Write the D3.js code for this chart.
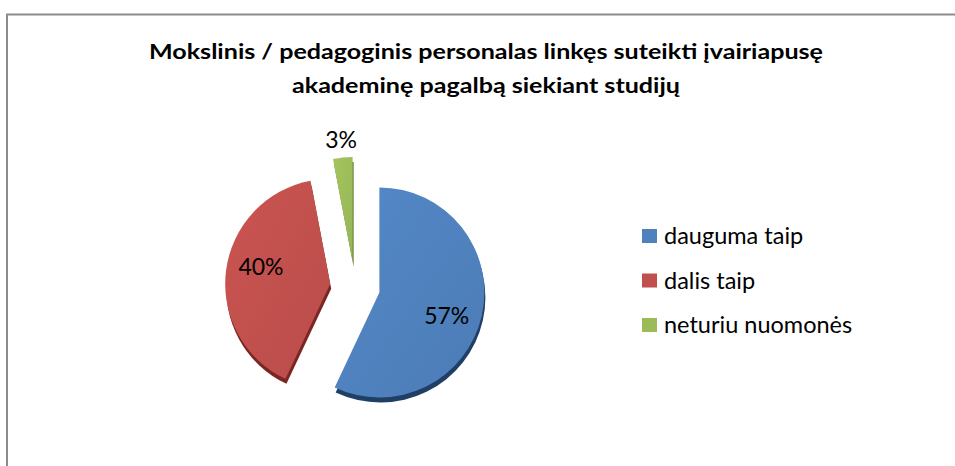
<!DOCTYPE html>
<html>
<head>
<meta charset="utf-8">
<script src="https://cdn.jsdelivr.net/npm/d3@7"></script>
<style>
    body { margin: 0; background: #fff; }
    svg { display: block; }
</style>
</head>
<body>
<div id="chart"></div>
<script>
(function(){

    // data ////////////////////////////////////////////////////////////////
    var categories = ["dauguma taip", "dalis taip", "neturiu nuomonės"],
        values = [57, 40, 3],
        labels = ["57%", "40%", "3%"],
        colors = ["#4F81BD", "#C0504D", "#9BBB59"],
        sideColors = ["#203f66", "#7c2624", "#5e7a2c"],
        titleLines = ["Mokslinis / pedagoginis personalas linkęs suteikti įvairiapusę",
                      "akademinę pagalbą siekiant studijų"];

    var width = 955, height = 466;

    var svg = d3.select("#chart").append("svg")
        .attr("width", width)
        .attr("height", height);

    // chart frame (only left + top visible)
    svg.append("rect")
        .attr("x", 7)
        .attr("y", 14.5)
        .attr("width", 1000)
        .attr("height", 500)
        .style("fill", "none")
        .style("stroke", "#8c8c8c")
        .style("stroke-width", 2);

    // title - stretched a bit so the first line spans like the original
    var title = svg.append("text")
        .attr("text-anchor", "middle")
        .style("font-family", "Lato, 'Open Sans', sans-serif")
        .style("font-weight", 700)
        .style("font-size", "21px")
        .style("fill", "#000");

    var tspans = title.selectAll("tspan")
        .data(titleLines)
        .enter().append("tspan")
        .attr("x", 486)
        .attr("y", function(d, i){ return i === 0 ? 59 : 93; })
        .text(function(d){ return d; });

    var natural = tspans.nodes().map(function(n){ return n.getComputedTextLength(); }),
        stretch = 674 / natural[0];
    tspans
        .attr("textLength", function(d, i){ return natural[i] * stretch; })
        .attr("lengthAdjust", "spacingAndGlyphs");

    // gradients for a bit of the 3d look
    var defs = svg.append("defs");
    colors.forEach(function(c, i){
        var g = defs.append("linearGradient")
            .attr("id", "grad" + i)
            .attr("x1", "0%").attr("y1", "0%")
            .attr("x2", "100%").attr("y2", "100%");
        g.append("stop").attr("offset", "0%").attr("stop-color", d3.color(c).brighter(0.15));
        g.append("stop").attr("offset", "100%").attr("stop-color", d3.color(c).darker(0.1));
    });

    // pie /////////////////////////////////////////////////////////////////
    var cx = 355, cy = 287, r = 105, explode = 25, depth = 5;

    var pie = d3.pie().sort(null).value(function(d){ return d; }),
        arcs = pie(values),
        arc = d3.arc().innerRadius(0).outerRadius(r);

    function offset(d){
        var a = (d.startAngle + d.endAngle) / 2;
        return [Math.sin(a) * explode, -Math.cos(a) * explode];
    }

    var pieG = svg.append("g").attr("transform", "translate(" + cx + "," + cy + ")");

    // side walls first
    pieG.selectAll("path.side")
        .data(arcs)
        .enter().append("path")
        .attr("class", "side")
        .attr("d", arc)
        .attr("transform", function(d){
            var o = offset(d);
            return "translate(" + (o[0] + 1) + "," + (o[1] + depth) + ")";
        })
        .style("fill", function(d, i){ return sideColors[i]; });

    pieG.selectAll("path.slice")
        .data(arcs)
        .enter().append("path")
        .attr("class", "slice")
        .attr("d", arc)
        .attr("transform", function(d){
            var o = offset(d);
            return "translate(" + o[0] + "," + o[1] + ")";
        })
        .style("fill", function(d, i){ return "url(#grad" + i + ")"; });

    // data labels, small slices go outside
    pieG.selectAll("text.lbl")
        .data(arcs)
        .enter().append("text")
        .attr("class", "lbl")
        .attr("transform", function(d){
            var o = offset(d),
                a = (d.startAngle + d.endAngle) / 2 + 0.12,
                rr = (d.endAngle - d.startAngle) < 0.4 ? r + 18 : r * 0.68;
            if ((d.endAngle - d.startAngle) < 0.4) a -= 0.12;
            return "translate(" + (o[0] + Math.sin(a) * rr) + "," + (o[1] - Math.cos(a) * rr) + ")";
        })
        .attr("text-anchor", "middle")
        .attr("dy", "0.35em")
        .style("font-family", "Lato, 'Open Sans', sans-serif")
        .style("font-size", "23px")
        .style("fill", "#000")
        .text(function(d, i){ return labels[i]; });

    // legend //////////////////////////////////////////////////////////////
    var legend = svg.append("g").attr("transform", "translate(642,236)");

    var item = legend.selectAll("g")
        .data(categories)
        .enter().append("g")
        .attr("transform", function(d, i){ return "translate(0," + (i * 44.5) + ")"; });

    item.append("rect")
        .attr("x", 0).attr("y", -7)
        .attr("width", 15).attr("height", 14)
        .style("fill", function(d, i){ return colors[i]; });

    item.append("text")
        .attr("x", 22)
        .attr("dy", "0.35em")
        .style("font-family", "Lato, 'Open Sans', sans-serif")
        .style("font-size", "23.5px")
        .style("fill", "#000")
        .text(function(d){ return d; });

})();
</script>
</body>
</html>
